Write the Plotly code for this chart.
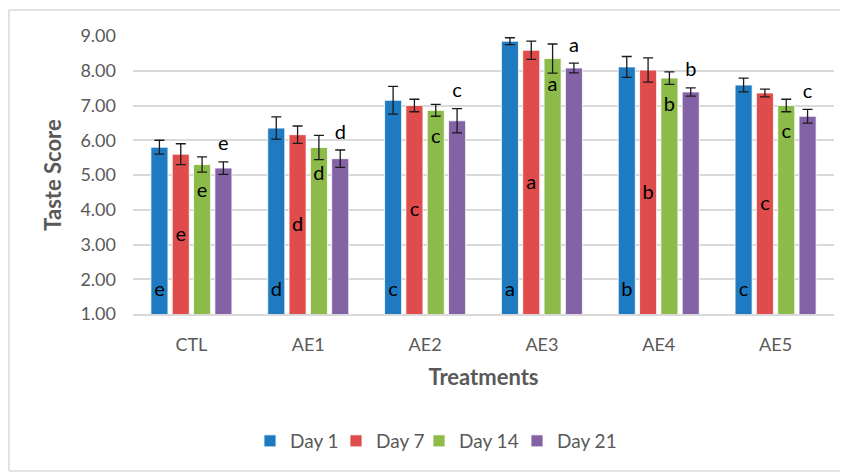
import plotly.graph_objects as go

treatments = ["CTL", "AE1", "AE2", "AE3", "AE4", "AE5"]
days = ["Day 1", "Day 7", "Day 14", "Day 21"]

day1 = [5.80, 6.35, 7.15, 8.85, 8.11, 7.59]
day7 = [5.60, 6.16, 7.00, 8.59, 8.02, 7.36]
day14 = [5.30, 5.79, 6.86, 8.35, 7.79, 7.00]
day21 = [5.20, 5.47, 6.56, 8.08, 7.39, 6.69]

err1 = [0.20, 0.32, 0.40, 0.10, 0.30, 0.20]
err7 = [0.30, 0.25, 0.18, 0.26, 0.35, 0.11]
err14 = [0.22, 0.35, 0.17, 0.42, 0.18, 0.18]
err21 = [0.18, 0.25, 0.35, 0.14, 0.12, 0.20]

letters = ["e", "d", "c", "a", "b", "c"]

colors = ["#1f7bc1", "#e04c4c", "#8cbb49", "#8462a6"]
legend_widths = [41, 38, 53, 62]
FONT = "Lato"
GREY = "#595959"

values = [day1, day7, day14, day21]
errors = [err1, err7, err14, err21]

W, H = 840, 465  # page adds an 8px body margin

fig = go.Figure()
for name, vals, errs, col, lw in zip(days, values, errors, colors, legend_widths):
    fig.add_trace(go.Bar(
        name=name, x=treatments, y=vals,
        marker=dict(color=col, line=dict(color="white", width=0.8)),
        error_y=dict(type="data", array=errs, visible=True, color="#1a1a1a",
                     thickness=1.3, width=5),
        offsetgroup=name, legendwidth=lw,
    ))

# significance letters, positioned relative to each bar
ymin = 1.0
pos1 = [ymin + 0.67 for _ in day1]
pos7 = [(ymin + v) / 2 - 0.05 for v in day7]
pos14 = [v - 0.79 for v in day14]
pos21 = [v + e + 0.47 for v, e in zip(day21, err21)]
for name, ys in zip(days, [pos1, pos7, pos14, pos21]):
    fig.add_trace(go.Scatter(
        x=treatments, y=ys, mode="text", text=letters,
        textposition="middle center",
        textfont=dict(family=FONT, size=20, color="black"),
        offsetgroup=name, showlegend=False, hoverinfo="skip",
    ))

border = dict(color="#d9d9d9", width=1.5)
bx0, bx1, by0, by1 = -0.177, 1.2, -0.565, 1.0935
fig.update_layout(
    width=W, height=H,
    barmode="group", scattermode="group",
    bargap=0.27, bargroupgap=0.2,
    plot_bgcolor="white", paper_bgcolor="white",
    margin=dict(l=125, r=14, t=28, b=159),
    font=dict(family=FONT, color=GREY, size=18),
    legend=dict(
        orientation="h", xref="container", yref="container",
        x=242 / W, xanchor="left", y=1 - 433 / H, yanchor="middle",
        font=dict(family=FONT, size=19, color=GREY),
        itemwidth=30, traceorder="normal",
    ),
    shapes=[
        dict(type="line", xref="paper", yref="paper", x0=bx0, x1=bx1, y0=by1, y1=by1, line=border, layer="below"),
        dict(type="line", xref="paper", yref="paper", x0=bx0, x1=bx1, y0=by0, y1=by0, line=border, layer="below"),
        dict(type="line", xref="paper", yref="paper", x0=bx0, x1=bx0, y0=by0, y1=by1, line=border, layer="below"),
    ],
)
fig.update_yaxes(
    range=[1, 9], dtick=1, tick0=1, tickformat=".2f",
    showgrid=True, gridcolor="#d9d9d9", gridwidth=1.5,
    zeroline=False, showline=False,
    ticklabelstandoff=16,
    tickfont=dict(family=FONT, size=18, color=GREY),
    title=dict(text="<b>Taste Score</b>", standoff=12,
               font=dict(family=FONT, size=22, color=GREY)),
)
fig.update_xaxes(
    showline=True, linecolor="#d9d9d9", linewidth=1.5,
    showgrid=False, ticklabelstandoff=14,
    tickfont=dict(family=FONT, size=18, color=GREY),
    title=dict(text="<b>Treatments</b>", standoff=15,
               font=dict(family=FONT, size=22, color=GREY)),
)

fig.write_html("out.html")
